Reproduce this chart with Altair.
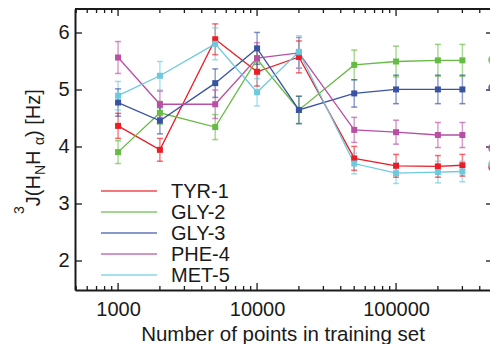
import altair as alt
import pandas as pd

# ---------------- data ----------------
x_vals = [1000, 2000, 5000, 10000, 20000, 50000, 100000, 200000, 300000]
series_names = ["TYR-1", "GLY-2", "GLY-3", "PHE-4", "MET-5"]
colors = ["#ec1c24", "#66bb44", "#3953a4", "#b84fa3", "#6ccadf"]

tyr1 = [4.37, 3.95, 5.89, 5.32, 5.58, 3.80, 3.67, 3.66, 3.68]
tyr1_err = [0.22, 0.20, 0.27, 0.25, 0.28, 0.21, 0.20, 0.19, 0.19]
gly2 = [3.91, 4.60, 4.35, 5.54, 4.65, 5.44, 5.50, 5.52, 5.52]
gly2_err = [0.20, 0.20, 0.22, 0.22, 0.24, 0.26, 0.27, 0.28, 0.28]
gly3 = [4.78, 4.46, 5.12, 5.73, 4.65, 4.94, 5.01, 5.01, 5.01]
gly3_err = [0.24, 0.23, 0.25, 0.28, 0.24, 0.24, 0.25, 0.25, 0.25]
phe4 = [5.57, 4.75, 4.75, 5.56, 5.65, 4.30, 4.26, 4.21, 4.21]
phe4_err = [0.28, 0.23, 0.25, 0.27, 0.27, 0.22, 0.21, 0.22, 0.22]
met5 = [4.90, 5.25, 5.81, 4.96, 5.67, 3.71, 3.54, 3.56, 3.57]
met5_err = [0.25, 0.25, 0.28, 0.24, 0.28, 0.18, 0.18, 0.19, 0.18]

ref_x = 500000
ref_values = [3.65, 5.53, 5.04, 3.98, 3.70]

x_label_values = [1000, 10000, 100000]
y_label_values = [2, 3, 4, 5, 6]
x_major_ticks = [1000, 10000, 100000]
x_minor_ticks = [500, 600, 700, 800, 900,
                 2000, 3000, 4000, 5000, 6000, 7000, 8000, 9000,
                 20000, 30000, 40000, 50000, 60000, 70000, 80000, 90000,
                 200000, 300000, 400000]

# ---------------- tables ----------------
vals = [tyr1, gly2, gly3, phe4, met5]
errs = [tyr1_err, gly2_err, gly3_err, phe4_err, met5_err]
rows = []
for k, name in enumerate(series_names):
    for xv, yv, ev in zip(x_vals, vals[k], errs[k]):
        rows.append({"series": name, "k": k, "x": xv, "y": yv,
                     "lo": yv - ev, "hi": yv + ev})
df = pd.DataFrame(rows)
ref_df = pd.DataFrame({"series": series_names, "k": range(5),
                       "x": [ref_x] * 5, "y": ref_values})
one = pd.DataFrame({"a": [0]})

W, H = 415, 281
INK = "#1a1a1a"
FONT = "Liberation Sans"

xscale = alt.Scale(type="log", domain=[490, 474000], nice=False)
yscale = alt.Scale(domain=[1.491, 6.421], nice=False, zero=False)
cscale = alt.Scale(domain=series_names, range=colors)

xaxis = alt.Axis(values=x_label_values, format="d", ticks=False, grid=False,
                 domainWidth=2, domainColor=INK, labelFontSize=20,
                 labelPadding=9, labelColor=INK, labelFlush=False,
                 title="Number of points in training set", titleFontSize=20.5,
                 titleFontWeight="normal", titleColor=INK,
                 titleBaseline="alphabetic", titleY=50)
yaxis = alt.Axis(values=y_label_values, ticks=False, grid=False,
                 domainWidth=2, domainColor=INK, labelFontSize=20,
                 labelPadding=6, labelColor=INK, title="")

X = lambda f: alt.X(f, type="quantitative", scale=xscale, axis=xaxis)
Y = lambda f: alt.Y(f, type="quantitative", scale=yscale, axis=yaxis)
C = alt.Color("series:N", scale=cscale, legend=None)

base = alt.Chart(df)

bars = base.mark_rule(strokeWidth=1.5, opacity=0.55).encode(
    x=X("x"), y=Y("lo"), y2="hi", color=C)
cap_lo = base.mark_tick(orient="horizontal", size=6, thickness=1.5,
                        opacity=0.65).encode(x=X("x"), y=Y("lo"), color=C)
cap_hi = base.mark_tick(orient="horizontal", size=6, thickness=1.5,
                        opacity=0.65).encode(x=X("x"), y=Y("hi"), color=C)
lines = base.mark_line(strokeWidth=1.3).encode(
    x=X("x"), y=Y("y"), color=C, order="x:Q")
points = base.mark_square(size=36, opacity=1, filled=True).encode(
    x=X("x"), y=Y("y"), color=C)
ref_pts = alt.Chart(ref_df).mark_circle(size=100, opacity=0.85, clip=True).encode(
    x=X("x"), y=Y("y"), color=C, order="k:Q")

# inward ticks
def xticks(values, y0, y1):
    return alt.Chart(pd.DataFrame({"v": values})).mark_rule(
        strokeWidth=1.3, color=INK).encode(
        x=X("v"), y=alt.value(y0), y2=alt.value(y1))

def yticks(x0, x1):
    return alt.Chart(pd.DataFrame({"v": y_label_values})).mark_rule(
        strokeWidth=1.3, color=INK).encode(
        y=Y("v"), x=alt.value(x0), x2=alt.value(x1))

ticks = [xticks(x_major_ticks, H, H - 7), xticks(x_minor_ticks, H, H - 4),
         xticks(x_major_ticks, 0, 7), xticks(x_minor_ticks, 0, 4),
         yticks(0, 7), yticks(W - 4, W)]

top_frame = alt.Chart(one).mark_rule(strokeWidth=2, color=INK).encode(
    x=alt.value(0), x2=alt.value(W), y=alt.value(0))

# legend
legend_layers = []
for i, name in enumerate(series_names):
    ly = 182 + 21 * i
    legend_layers.append(alt.Chart(one).mark_rule(
        strokeWidth=2, opacity=0.6, color=colors[i]).encode(
        x=alt.value(26), x2=alt.value(82), y=alt.value(ly)))
    legend_layers.append(alt.Chart(one).mark_text(
        text=name, align="left", baseline="middle", fontSize=20,
        color=INK, font=FONT).encode(x=alt.value(96), y=alt.value(ly + 1)))

# y-axis title: ^3J(H_N H_alpha) [Hz], composed from pieces
def piece(txt, size, bx, by):
    return alt.Chart(one).mark_text(
        text=txt, angle=270, align="left", baseline="alphabetic",
        fontSize=size, color=INK, font=FONT).encode(
        x=alt.value(bx), y=alt.value(by))

title_layers = [
    piece("3", 14, -51, 205),
    piece("J(H", 20, -35, 197.2),
    piece("N", 14, -30, 166.1),
    piece(" H", 20, -35, 156.0),
    piece("\u03b1", 14, -31, 136.0),
    piece(" ) [Hz]", 20, -35, 128.0),
]

chart = alt.layer(
    *ticks, bars, cap_lo, cap_hi, lines, points, ref_pts, top_frame,
    *legend_layers, *title_layers
).properties(
    width=W, height=H,
    autosize=alt.AutoSizeParams(type="none"),
    padding={"left": 67, "top": 1, "right": 0, "bottom": 54},
    background="white",
).configure_view(stroke=None).configure(font=FONT)

chart.save("out.html", embed_options={"renderer": "svg", "actions": False})
